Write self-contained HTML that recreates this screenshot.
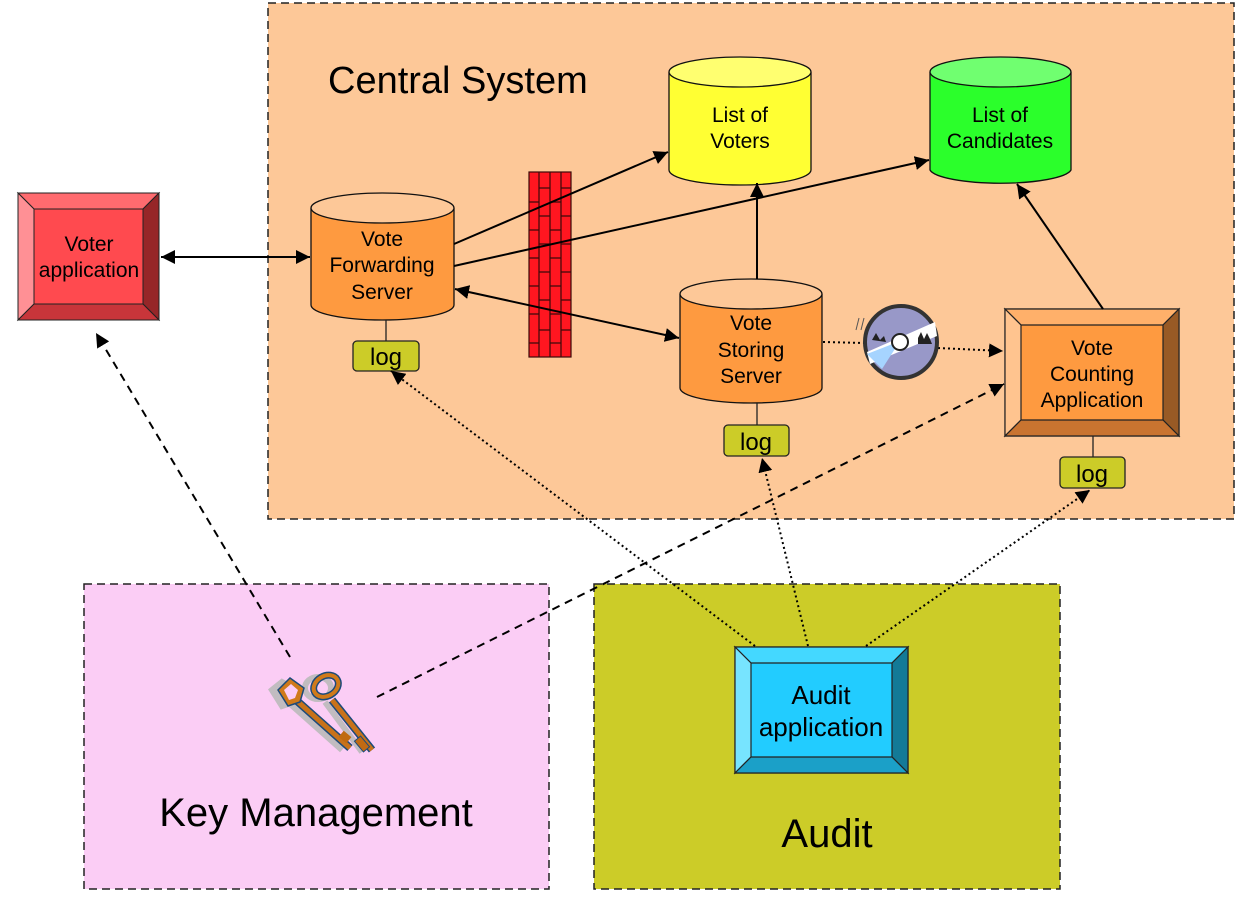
<!DOCTYPE html>
<html><head><meta charset="utf-8"><style>
html,body{margin:0;padding:0;background:#fff;}
svg{display:block;}
text{font-family:"Liberation Sans",Arial,sans-serif;fill:#000;}
</style></head><body>
<svg width="1256" height="900" viewBox="0 0 1256 900" xmlns="http://www.w3.org/2000/svg">
<defs>
<marker id="ah2" viewBox="0 0 10 10" refX="10" refY="5" markerWidth="14" markerHeight="14" markerUnits="userSpaceOnUse" orient="auto-start-reverse"><path d="M0,0 L10,5 L0,10 z" fill="#000"/></marker>
</defs>

<!-- regions -->
<rect x="268" y="3" width="966" height="516" fill="#fdc898" stroke="#222" stroke-width="1.5" stroke-dasharray="8,5"/>
<rect x="84" y="584" width="465" height="305" fill="#fbcdf5" stroke="#222" stroke-width="1.5" stroke-dasharray="8,5"/>
<rect x="594" y="584" width="466" height="305" fill="#cccc28" stroke="#222" stroke-width="1.5" stroke-dasharray="8,5"/>
<text x="328" y="93" font-size="38">Central System</text>
<text x="316" y="826" font-size="40" text-anchor="middle">Key Management</text>
<text x="827" y="847" font-size="40" text-anchor="middle">Audit</text>

<!-- Voter application bevel -->
<g stroke="#222" stroke-width="1">
<rect x="18" y="193" width="141" height="127" fill="#ff4a4f"/>
<polygon points="18,193 159,193 143,209 34,209" fill="#ff6b6f"/>
<polygon points="18,193 34,209 34,304 18,320" fill="#ff9095"/>
<polygon points="159,193 159,320 143,304 143,209" fill="#962628"/>
<polygon points="18,320 159,320 143,304 34,304" fill="#c8353a"/>
</g>
<text x="89" y="251" font-size="21" text-anchor="middle">Voter</text>
<text x="89" y="277" font-size="21" text-anchor="middle">application</text>

<!-- Vote Counting bevel -->
<g stroke="#222" stroke-width="1.2">
<rect x="1005" y="309" width="174" height="127" fill="#fe9a40"/>
<polygon points="1005,309 1179,309 1163,325 1021,325" fill="#ffb06a"/>
<polygon points="1005,309 1021,325 1021,420 1005,436" fill="#ffc48f"/>
<polygon points="1179,309 1179,436 1163,420 1163,325" fill="#985a25"/>
<polygon points="1005,436 1179,436 1163,420 1021,420" fill="#c97430"/>
</g>
<text x="1092" y="355" font-size="21" text-anchor="middle">Vote</text>
<text x="1092" y="381" font-size="21" text-anchor="middle">Counting</text>
<text x="1092" y="407" font-size="21" text-anchor="middle">Application</text>

<!-- Audit app bevel -->
<g stroke="#222" stroke-width="1.2">
<rect x="735" y="647" width="173" height="126" fill="#22ccff"/>
<polygon points="735,647 908,647 892,663 751,663" fill="#44d8ff"/>
<polygon points="735,647 751,663 751,757 735,773" fill="#77e4ff"/>
<polygon points="908,647 908,773 892,757 892,663" fill="#137a97"/>
<polygon points="735,773 908,773 892,757 751,757" fill="#1ba0c8"/>
</g>
<text x="821" y="704" font-size="26" text-anchor="middle">Audit</text>
<text x="821" y="736" font-size="26" text-anchor="middle">application</text>

<!-- cylinders -->
<g stroke="#111" stroke-width="1.3">
<path d="M311,208 L311,305 A71.5,15 0 0 0 454,305 L454,208" fill="#fe9a40"/>
<ellipse cx="382.5" cy="208" rx="71.5" ry="15" fill="#fdc898"/>
<path d="M680,294 L680,388 A71,15 0 0 0 822,388 L822,294" fill="#fe9a40"/>
<ellipse cx="751" cy="294" rx="71" ry="15" fill="#fdc898"/>
<path d="M669,72 L669,170 A71,15 0 0 0 811,170 L811,72" fill="#ffff33"/>
<ellipse cx="740" cy="72" rx="71" ry="15" fill="#ffff70"/>
<path d="M930,72 L930,170 A71,15 0 0 0 1071,170 L1071,72" fill="#2bff2b"/>
<ellipse cx="1000.5" cy="72" rx="70.5" ry="15" fill="#70ff70"/>
</g>
<text x="382" y="246" font-size="21" text-anchor="middle">Vote</text>
<text x="382" y="272" font-size="21" text-anchor="middle">Forwarding</text>
<text x="382" y="299" font-size="21" text-anchor="middle">Server</text>
<text x="751" y="330" font-size="21" text-anchor="middle">Vote</text>
<text x="751" y="357" font-size="21" text-anchor="middle">Storing</text>
<text x="751" y="383" font-size="21" text-anchor="middle">Server</text>
<text x="740" y="122" font-size="21" text-anchor="middle">List of</text>
<text x="740" y="148" font-size="21" text-anchor="middle">Voters</text>
<text x="1000" y="122" font-size="21" text-anchor="middle">List of</text>
<text x="1000" y="148" font-size="21" text-anchor="middle">Candidates</text>

<!-- log stems and boxes -->
<g stroke="#222" stroke-width="1.3">
<line x1="386" y1="320" x2="386" y2="341"/>
<line x1="757" y1="403" x2="757" y2="425"/>
<line x1="1093" y1="436" x2="1093" y2="457"/>
<rect x="353" y="341" width="66" height="30" rx="4" fill="#cccc28"/>
<rect x="724" y="425" width="65" height="31" rx="4" fill="#cccc28"/>
<rect x="1060" y="457" width="65" height="31" rx="4" fill="#cccc28"/>
</g>
<text x="386" y="365" font-size="24" text-anchor="middle">log</text>
<text x="756" y="450" font-size="24" text-anchor="middle">log</text>
<text x="1092" y="482" font-size="24" text-anchor="middle">log</text>

<!-- firewall -->
<g stroke="#3a0a0a" stroke-width="1.2">
<rect x="529" y="172" width="42" height="185" fill="#ff1620"/>
<line x1="539" y1="172" x2="539" y2="357"/>
<line x1="550" y1="172" x2="550" y2="357"/>
<line x1="561" y1="172" x2="561" y2="357"/>
<path d="M529,202 h10 M529,230 h10 M529,258 h10 M529,286 h10 M529,314 h10 M529,343 h10
M539,188 h11 M539,216 h11 M539,244 h11 M539,272 h11 M539,300 h11 M539,330 h11
M550,202 h11 M550,230 h11 M550,258 h11 M550,286 h11 M550,314 h11 M550,343 h11
M561,188 h10 M561,216 h10 M561,244 h10 M561,272 h10 M561,300 h10 M561,330 h10"/>
</g>

<!-- solid connectors -->
<g stroke="#000" stroke-width="2" fill="none">
<line x1="161" y1="257" x2="310" y2="257" marker-start="url(#ah2)" marker-end="url(#ah2)"/>
<line x1="454" y1="244" x2="668" y2="152" marker-end="url(#ah2)"/>
<line x1="454" y1="266" x2="929" y2="160" marker-end="url(#ah2)"/>
<line x1="455" y1="289" x2="679" y2="338" marker-start="url(#ah2)" marker-end="url(#ah2)"/>
<line x1="757" y1="279" x2="757" y2="183" marker-end="url(#ah2)"/>
<line x1="1103" y1="309" x2="1017" y2="184" marker-end="url(#ah2)"/>
</g>

<!-- dotted -->
<g stroke="#000" stroke-width="2" fill="none" stroke-dasharray="2,3">
<line x1="823" y1="342" x2="866" y2="343"/>
<line x1="938" y1="348" x2="1003" y2="351" marker-end="url(#ah2)"/>
<line x1="755" y1="646" x2="391" y2="371" marker-end="url(#ah2)"/>
<line x1="808" y1="646" x2="762" y2="458" marker-end="url(#ah2)"/>
<line x1="866" y1="646" x2="1090" y2="490" marker-end="url(#ah2)"/>
</g>
<!-- dashed -->
<g stroke="#000" stroke-width="2" fill="none" stroke-dasharray="8,6">
<line x1="290" y1="657" x2="96" y2="333" marker-end="url(#ah2)"/>
<line x1="377" y1="697" x2="1004" y2="384" marker-end="url(#ah2)"/>
</g>

<!-- CD -->
<circle cx="901" cy="342" r="36" fill="#9898c8" stroke="#333" stroke-width="4"/>
<path d="M867,352 L935,322 L937,336 L870,364 z" fill="#fff"/>
<path d="M867,354 L900,341 L882,369 z" fill="#a6d4ff"/>
<circle cx="900" cy="342" r="8" fill="#fff" stroke="#222" stroke-width="2"/>
<path d="M872,340 l4,-7 l4,7 l4,-4 l2,6 z M918,338 l3,-6 l3,7 l3,-6 l3,6 l2,5 l-14,0 z" fill="#222"/>
<path d="M856,330 l3,-12 M861,330 l3,-12" stroke="#555" stroke-width="1"/>

<!-- keys -->
<g>
<g fill="none" stroke="#bbb" stroke-width="6" opacity="0.9">
<path d="M272,690 L282,682 L296,690 L294,702 L282,706 Z" fill="#bbb"/>
<ellipse cx="318" cy="688" rx="13" ry="11"/>
<line x1="288" y1="702" x2="342" y2="750"/>
<line x1="325" y1="702" x2="362" y2="752"/>
</g>
<g>
<line x1="296" y1="700" x2="350" y2="748" stroke="#1c4a7a" stroke-width="8"/>
<line x1="296" y1="700" x2="350" y2="748" stroke="#c8721a" stroke-width="5"/>
<path d="M278,690 L290,678 L304,688 L300,702 L288,706 Z" fill="#d07a1a" stroke="#1c4a7a" stroke-width="1.5"/>
<path d="M284,690 L291,684 L298,690 L295,698 L289,700 Z" fill="#fbcdf5"/>
<rect x="340" y="733" width="10" height="8" fill="#c06a12" transform="rotate(40 345 737)"/>
<line x1="332" y1="700" x2="372" y2="750" stroke="#1c4a7a" stroke-width="8"/>
<line x1="332" y1="700" x2="372" y2="750" stroke="#c8721a" stroke-width="5"/>
<ellipse cx="326" cy="686" rx="13" ry="10" fill="none" stroke="#1c4a7a" stroke-width="7" transform="rotate(-30 326 686)"/>
<ellipse cx="326" cy="686" rx="13" ry="10" fill="none" stroke="#d07a1a" stroke-width="4" transform="rotate(-30 326 686)"/>
<rect x="355" y="740" width="14" height="8" fill="#c06a12" stroke="#1c4a7a" stroke-width="1" transform="rotate(50 362 744)"/>
</g>
</g>
</svg>
</body></html>
